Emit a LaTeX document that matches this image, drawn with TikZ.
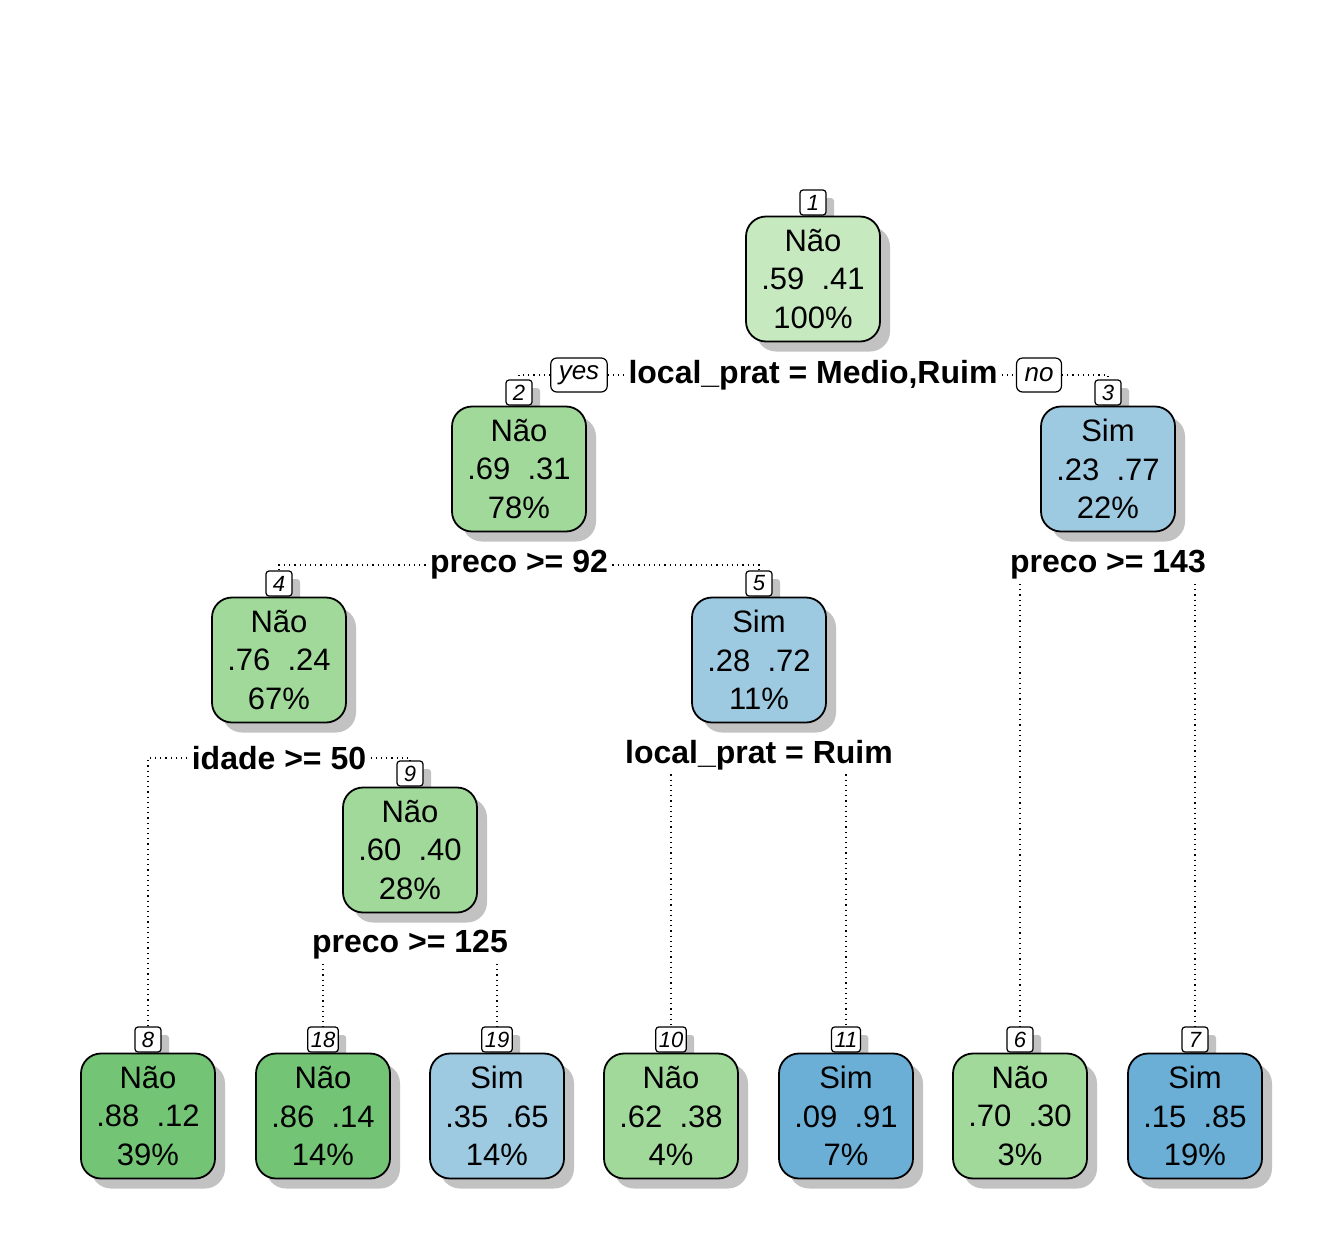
\documentclass[tikz,border=0pt]{standalone}
\usepackage{fontspec}
\setmainfont{Liberation Sans}
\usetikzlibrary{positioning,shadows,backgrounds}
\definecolor{naolt}{HTML}{C7E9C0}
\definecolor{naomd}{HTML}{A1D99B}
\definecolor{naodk}{HTML}{74C476}
\definecolor{simmd}{HTML}{9ECAE1}
\definecolor{simdk}{HTML}{6BAED6}
\begin{document}
\begin{tikzpicture}[
  x=0.5pt,y=-0.5pt,
  tnode/.style={rectangle,rounded corners=10pt,
               draw=black,fill=#1,line width=0.9pt,
               minimum width=67pt,minimum height=62.5pt,inner sep=0pt,
               align=center,font=\fontsize{15.5}{19.25}\selectfont,
               drop shadow={shadow xshift=5pt,shadow yshift=-5pt,fill=black!24,opacity=1}},
  nbox/.style={rectangle,rounded corners=1.5pt,draw=black,fill=white,
               line width=0.6pt,minimum width=13pt,minimum height=12.5pt,inner sep=1.5pt,
               font=\fontsize{11}{11}\selectfont\itshape,
               drop shadow={shadow xshift=4pt,shadow yshift=-4pt,fill=black!24,opacity=1}},
  split/.style={font=\fontsize{16}{16}\selectfont\bfseries,inner sep=2pt},
  yn/.style={rectangle,rounded corners=3pt,draw=black,fill=white,line width=0.6pt,
             minimum height=17pt,inner xsep=4pt,inner ysep=3pt,
             font=\fontsize{13}{13}\selectfont\itshape},
  dots/.style={dotted,line width=0.6pt}
]
\useasboundingbox (0,0) rectangle (1344,1248);
% tree nodes
\node[tnode=naolt] (n1)  at (813,279)  {Não\\.59\ \ .41\\100\%};
\node[tnode=naomd] (n2)  at (519,469)  {Não\\.69\ \ .31\\78\%};
\node[tnode=simmd] (n3)  at (1108,469) {Sim\\.23\ \ .77\\22\%};
\node[tnode=naomd] (n4)  at (279,660)  {Não\\.76\ \ .24\\67\%};
\node[tnode=simmd] (n5)  at (759,660)  {Sim\\.28\ \ .72\\11\%};
\node[tnode=naomd] (n9)  at (410,850)  {Não\\.60\ \ .40\\28\%};
\node[tnode=naodk] (n8)  at (148,1116) {Não\\.88\ \ .12\\39\%};
\node[tnode=naodk] (n18) at (323,1116) {Não\\.86\ \ .14\\14\%};
\node[tnode=simmd] (n19) at (497,1116) {Sim\\.35\ \ .65\\14\%};
\node[tnode=naomd] (n10) at (671,1116) {Não\\.62\ \ .38\\4\%};
\node[tnode=simdk] (n11) at (846,1116) {Sim\\.09\ \ .91\\7\%};
\node[tnode=naomd] (n6)  at (1020,1116) {Não\\.70\ \ .30\\3\%};
\node[tnode=simdk] (n7)  at (1195,1116) {Sim\\.15\ \ .85\\19\%};
% node numbers
\begin{scope}[on background layer]
\node[nbox,above=0pt of n1]  (l1)  {1};
\node[nbox,above=0pt of n2]  (l2)  {2};
\node[nbox,above=0pt of n3]  (l3)  {3};
\node[nbox,above=0pt of n4]  (l4)  {4};
\node[nbox,above=0pt of n5]  (l5)  {5};
\node[nbox,above=0pt of n9]  (l9)  {9};
\node[nbox,above=0pt of n8]  (l8)  {8};
\node[nbox,above=0pt of n18] (l18) {18};
\node[nbox,above=0pt of n19] (l19) {19};
\node[nbox,above=0pt of n10] (l10) {10};
\node[nbox,above=0pt of n11] (l11) {11};
\node[nbox,above=0pt of n6]  (l6)  {6};
\node[nbox,above=0pt of n7]  (l7)  {7};
\end{scope}
% splits
\node[split] (s1) at (813,375) {local\_prat = Medio,Ruim};
\node[yn]    (yes) at (579,375) {yes};
\node[yn]    (no)  at (1039,375) {no};
\node[split] (s2) at (519,565)  {preco >= 92};
\node[split] (s3) at (1108,565) {preco >= 143};
\node[split] (s4) at (279,758)  {idade >= 50};
\node[split] (s5) at (759,755)  {local\_prat = Ruim};
\node[split] (s9) at (410,945)  {preco >= 125};
% branches
\draw[dots] (yes.west) -| (l2.north);
\draw[dots] (yes.east) -- (s1.west);
\draw[dots] (s1.east) -- (no.west);
\draw[dots] (no.east) -| (l3.north);
\draw[dots] (s2.west) -| (l4.north);
\draw[dots] (s2.east) -| (l5.north);
\draw[dots] (s3.south -| l6.north) -- (l6.north);
\draw[dots] (s3.south -| l7.north) -- (l7.north);
\draw[dots] (s4.west) -| (l8.north);
\draw[dots] (s4.east) -| (l9.north);
\draw[dots] (s5.south -| l10.north) -- (l10.north);
\draw[dots] (s5.south -| l11.north) -- (l11.north);
\draw[dots] (s9.south -| l18.north) -- (l18.north);
\draw[dots] (s9.south -| l19.north) -- (l19.north);
\end{tikzpicture}
\end{document}
